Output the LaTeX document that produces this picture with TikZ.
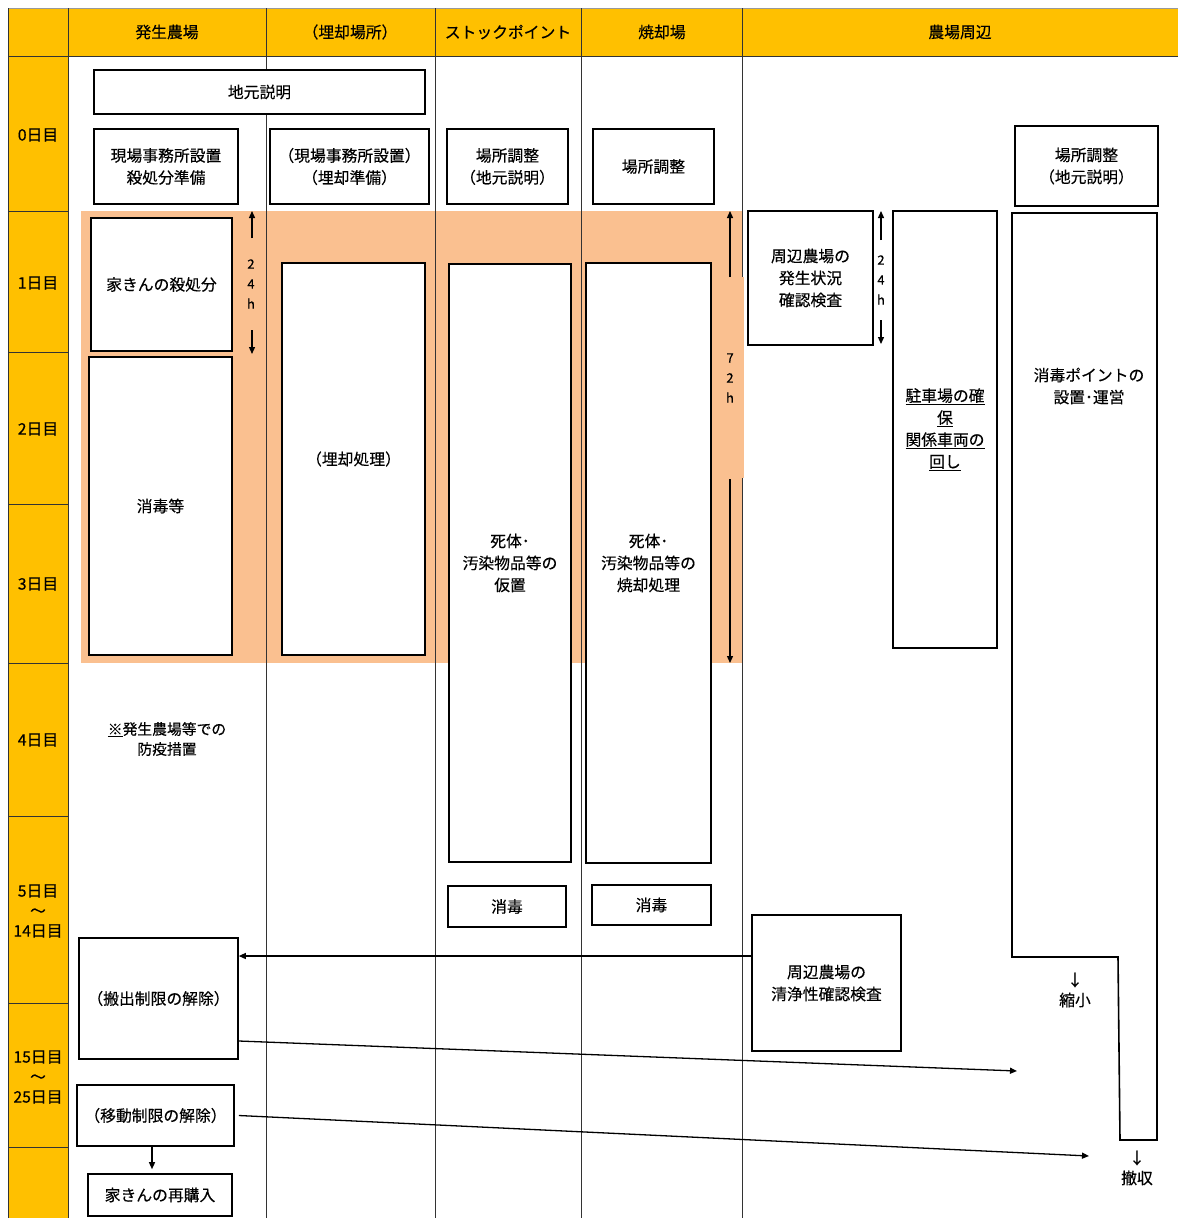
\documentclass[tikz,border=0pt]{standalone}
\usepackage{fontspec}
\setmainfont{Noto Sans CJK JP}[UprightFeatures={FakeBold=0.35}]
\usetikzlibrary{arrows.meta}
\definecolor{hdr}{HTML}{FFC000}
\definecolor{band}{HTML}{FAC090}
\newcommand{\myfs}{\fontsize{15.8}{22}\selectfont}
\newcommand{\smfs}{\fontsize{13}{20}\selectfont}
\newcommand{\Bx}[6]{\node[box, minimum width={#4-#2}, minimum height={#5-#3}] (#1) at ({(#2+#4)/2},{(#3+#5)/2}) {#6};}
\begin{document}
\begin{tikzpicture}[x=1pt,y=-1pt,
  box/.style={draw=black, line width=1.6pt, fill=white, align=center, inner sep=0pt, font=\myfs},
  lbl/.style={align=center, inner sep=0pt, font=\myfs},
  hl/.style={align=center, inner sep=0pt, font=\smfs},
  grid/.style={line width=0.8pt, draw=black!80},
  arr/.style={-{Triangle[length=7pt,width=6pt]}, line width=1.3pt},
]
\useasboundingbox (0,0) rectangle (1178,1218);
\fill[white] (0,0) rectangle (1178,1218);
% header and day column
\fill[hdr] (8,8) rectangle (1178,56);
\fill[hdr] (8,56) rectangle (68,1218);
% orange band
\fill[band] (81,211) rectangle (743,663);
% grid lines
\draw[grid, draw=black!40] (8,8) -- (1178,8);
\draw[grid] (8,56) -- (1178,56);
\foreach \x in {8,68,266,435,581,742} \draw[grid] (\x,8) -- (\x,1218);
\foreach \y in {211,352,504,663,816,1003,1147} \draw[grid] (8,\y) -- (68,\y);
\fill[band] (719,277) rectangle (743.6,478);
% header texts
\node[lbl] (h1) at (167,32) {発生農場};
\node[lbl] (h2) at (350,32) {（埋却場所）};
\node[lbl] (h3) at (508,32) {ストックポイント};
\node[lbl] (h4) at (662,32) {焼却場};
\node[lbl] (h5) at (960,32) {農場周辺};
% day labels
\node[lbl] (d0) at (38,135) {0日目};
\node[lbl] (d1) at (38,283) {1日目};
\node[lbl] (d2) at (38,429) {2日目};
\node[lbl] (d3) at (38,584) {3日目};
\node[lbl] (d4) at (38,740) {4日目};
\node[lbl, font=\fontsize{15.8}{20}\selectfont] (d5) at (38,911) {5日目\\～\\14日目};
\node[lbl, font=\fontsize{15.8}{20}\selectfont] (d15) at (38,1077) {15日目\\～\\25日目};
% boxes
\Bx{jimoto}{94}{70}{425}{114}{地元説明}
\Bx{genba1}{94}{129}{238}{204}{現場事務所設置\\殺処分準備}
\Bx{genba2}{270}{129}{429}{204}{（現場事務所設置）\\（埋却準備）}
\Bx{basho1}{447}{129}{568}{204}{場所調整\\（地元説明）}
\Bx{basho2}{593}{129}{714}{204}{場所調整}
\Bx{basho3}{1015}{126}{1158}{206}{場所調整\\（地元説明）}
\Bx{sassho}{91}{218}{232}{351}{家きんの殺処分}
\Bx{shodoku}{89}{357}{232}{655}{消毒等}
\Bx{maikyaku}{282}{263}{425}{655}{（埋却処理）}
\Bx{karioki}{449}{264}{571}{862}{死体･\\汚染物品等の\\仮置}
\Bx{shokyaku}{586}{263}{711}{863}{死体･\\汚染物品等の\\焼却処理}
\Bx{shodokuA}{448}{886}{566}{927}{消毒}
\Bx{shodokuB}{592}{885}{711}{925}{消毒}
\Bx{kensa}{748}{211}{873}{345}{周辺農場の\\発生状況\\確認検査}
\Bx{chusha}{893}{211}{997}{648}{\underline{駐車場の確}\\\underline{保}\\\underline{関係車両の}\\\underline{回し}}
\Bx{hanshutsu}{79}{938}{238}{1059}{（搬出制限の解除）}
\Bx{idou}{77}{1085}{234}{1146}{（移動制限の解除）}
\Bx{kounyu}{88}{1174}{232}{1216}{家きんの再購入}
\Bx{seijou}{752}{915}{901}{1051}{周辺農場の\\清浄性確認検査}
% disinfection point polygon
\draw[line width=1.6pt, fill=white] (1012,213) -- (1157,213) -- (1157,1140) -- (1120,1140) -- (1118,957) -- (1012,957) -- cycle;
\node[lbl] (point) at (1089,386) {消毒ポイントの\\設置･運営};
\node[lbl, font=\fontsize{15.8}{20}\selectfont] (shuku) at (1075,990) {↓\\縮小};
\node[lbl, font=\fontsize{15.8}{20}\selectfont] (tesshu) at (1137,1168) {↓\\撤収};
% note
\node[lbl, font=\fontsize{14.8}{20}\selectfont] (note) at (167,739) {\underline{※}発生農場等での\\防疫措置};
% 24h / 72h indicators
\node[hl] (t1) at (251,284) {2\\4\\h};
\coordinate (a1t) at (252,211); \coordinate (a1b) at (252,238);
\coordinate (a1c) at (252,330); \coordinate (a1d) at (252,354);
\draw[arr] (a1b) -- (a1t);
\draw[arr] (a1c) -- (a1d);
\node[hl] (t2) at (881,280) {2\\4\\h};
\coordinate (a2t) at (881,211); \coordinate (a2b) at (881,240);
\coordinate (a2c) at (881,320); \coordinate (a2d) at (881,344);
\draw[arr] (a2b) -- (a2t);
\draw[arr] (a2c) -- (a2d);
\node[hl] (t3) at (730,378) {7\\2\\h};
\coordinate (a3t) at (730,211); \coordinate (a3b) at (730,277);
\coordinate (a3c) at (730,479); \coordinate (a3d) at (730,663);
\draw[arr] (a3b) -- (a3t);
\draw[arr] (a3c) -- (a3d);
% connectors
\draw[arr] ([yshift=27pt]seijou.west) -- ([yshift=27pt]seijou.west -| hanshutsu.east);
\coordinate (e1) at (1017,1071);
\draw[arr] ([yshift=-42.5pt]hanshutsu.east) -- (e1);
\coordinate (e2) at (1089,1156);
\draw[arr] ([xshift=4pt]idou.east) -- (e2);
\draw[arr] ([xshift=-3.5pt]idou.south) -- ([xshift=-3.5pt,yshift=4pt]idou.south |- kounyu.north);
\end{tikzpicture}
\end{document}
